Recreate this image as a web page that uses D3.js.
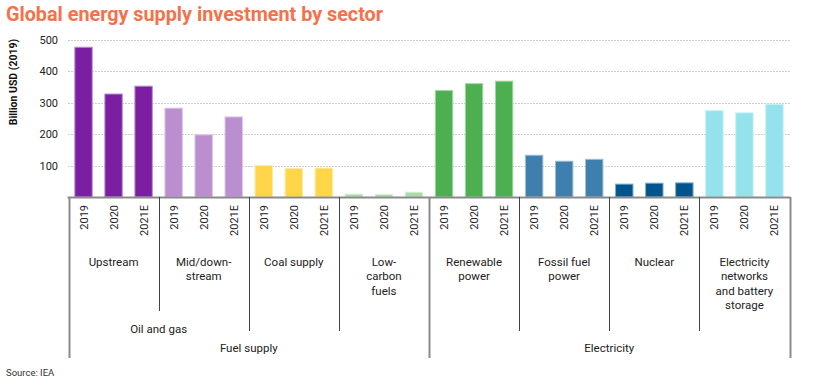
<!DOCTYPE html>
<html><head><meta charset="utf-8">
<script src="https://cdn.jsdelivr.net/npm/d3@7"></script>
<style>
html,body{margin:0;padding:0;background:#fff;}
svg{display:block;font-family:Roboto, "Noto Sans", sans-serif;}
</style></head>
<body><div id="chart"></div>
<script>
const sectors = ["Upstream","Mid/down-stream","Coal supply","Low-carbon fuels","Renewable power","Fossil fuel power","Nuclear","Electricity networks and battery storage"];
const sectorLabelLines = [["Upstream"],["Mid/down-","stream"],["Coal supply"],["Low-","carbon","fuels"],["Renewable","power"],["Fossil fuel","power"],["Nuclear"],["Electricity","networks","and battery","storage"]];
const years = ["2019","2020","2021E"];
const values2019 = [477,283,100,9,339,133,41,275];
const values2020 = [328,198,91,8,361,114,44,268];
const values2021E = [353,255,92,15,369,120,45,295];
const sectorColors = ["#7B1FA2","#BB8ECF","#FFD54A","#A9DBA9","#4CAF50","#3F7FAD","#00558F","#93E2EC"];
const yTicks = [100,200,300,400,500];
const subGroups = [{name:"Oil and gas", from:0, to:1}];
const topGroups = [{name:"Fuel supply", from:0, to:3},{name:"Electricity", from:4, to:7}];

const W = 830, H = 380;
const svg = d3.select("#chart").append("svg").attr("width", W).attr("height", H);

const left = 68.5, right = 789.5, y0 = 197, yTop = 40;
const x = d3.scaleBand().domain(sectors).range([left, right]).padding(0);
const xi = d3.scaleBand().domain(years).range([0, x.bandwidth()]).paddingInner(0.42).paddingOuter(0.21);
const y = d3.scaleLinear().domain([0,500]).range([y0, yTop]);

const seriesValues = [values2019, values2020, values2021E];
const data = [];
sectors.forEach((s,i)=>years.forEach((yr,j)=>data.push({sector:s, year:yr, value:seriesValues[j][i], color:sectorColors[i]})));

// title
svg.append("text").attr("x", 6).attr("y", 21).text("Global energy supply investment by sector")
  .attr("fill","#F4714A").attr("font-size", 20).attr("font-weight", 700)
  .attr("textLength", 377).attr("lengthAdjust","spacingAndGlyphs");

// gridlines
svg.append("g").selectAll("line").data(yTicks).join("line")
  .attr("x1", left).attr("x2", right)
  .attr("y1", d=>Math.round(y(d))+0.5).attr("y2", d=>Math.round(y(d))+0.5)
  .attr("stroke","#9a9a9a").attr("stroke-width",1).attr("stroke-dasharray","1,2");

// y axis tick labels
const yAxis = d3.axisLeft(y).tickValues(yTicks).tickSize(0).tickPadding(0);
const ya = svg.append("g").attr("transform", `translate(${58},0)`).call(yAxis);
ya.select(".domain").remove();
ya.selectAll("text").attr("font-size", 11).attr("fill","#222").attr("font-family","Roboto, sans-serif");

// y title
svg.append("text").attr("transform", `translate(17,82) rotate(-90)`).attr("text-anchor","middle")
  .attr("font-size", 10.5).attr("font-weight",700).attr("fill","#111").text("Billion USD (2019)");

// bars
svg.append("g").selectAll("rect").data(data).join("rect")
  .attr("x", d=>x(d.sector)+xi(d.year))
  .attr("width", xi.bandwidth())
  .attr("y", d=>y(d.value))
  .attr("height", d=>y0 - y(d.value))
  .attr("fill", d=>d.color)
  .attr("stroke", d=>d3.interpolateRgb(d.color, "#fff")(0.5))
  .attr("stroke-width", 1);

// axis baseline
svg.append("line").attr("x1", left-1).attr("x2", right+1).attr("y1", y0+0.5).attr("y2", y0+0.5)
  .attr("stroke","#8a8a8a").attr("stroke-width",2);

// year labels
svg.append("g").selectAll("text").data(data).join("text")
  .attr("transform", d=>`translate(${x(d.sector)+xi(d.year)+xi.bandwidth()/2+4},205) rotate(-90)`)
  .attr("text-anchor","end").attr("font-size", 11).attr("fill","#222").text(d=>d.year);

// separators
const boundaries = d3.range(sectors.length+1).map(i=>{
  const xpos = i < sectors.length ? x(sectors[i]) : x(sectors[sectors.length-1]) + x.bandwidth();
  let len, outer = false;
  if (i===0 || i===sectors.length || i===4) { len = 358; outer = true; }
  else if (i===1) len = 311;
  else len = 331;
  return {x:xpos, y2:len, outer};
});
svg.append("g").selectAll("line").data(boundaries).join("line")
  .attr("x1", d=>Math.round(d.x)+0.5).attr("x2", d=>Math.round(d.x)+0.5)
  .attr("y1", y0).attr("y2", d=>d.y2)
  .attr("stroke", d=>d.outer ? "#8a8a8a" : "#444")
  .attr("stroke-width", d=>d.outer ? 2 : 1);

// sector labels
const sl = svg.append("g").selectAll("text").data(sectors).join("text")
  .attr("x", d=>x(d)+x.bandwidth()/2).attr("y", 266)
  .attr("text-anchor","middle").attr("font-size", 11.5).attr("fill","#222");
sl.each(function(d,i){
  d3.select(this).selectAll("tspan").data(sectorLabelLines[i]).join("tspan")
    .attr("x", x(d)+x.bandwidth()/2).attr("dy",(t,k)=>k===0?0:14.4).text(t=>t);
});

// sub group labels
svg.append("g").selectAll("text").data(subGroups).join("text")
  .attr("x", d=>(x(sectors[d.from]) + x(sectors[d.to]) + x.bandwidth())/2).attr("y", 333)
  .attr("text-anchor","middle").attr("font-size", 11.5).attr("fill","#222").text(d=>d.name);

svg.append("g").selectAll("text").data(topGroups).join("text")
  .attr("x", d=>(x(sectors[d.from]) + x(sectors[d.to]) + x.bandwidth())/2).attr("y", 352)
  .attr("text-anchor","middle").attr("font-size", 11.5).attr("fill","#222").text(d=>d.name);

// source
svg.append("text").attr("x", 6).attr("y", 376).attr("font-size", 9.5).attr("fill","#333").text("Source: IEA");
</script>
</body></html>
